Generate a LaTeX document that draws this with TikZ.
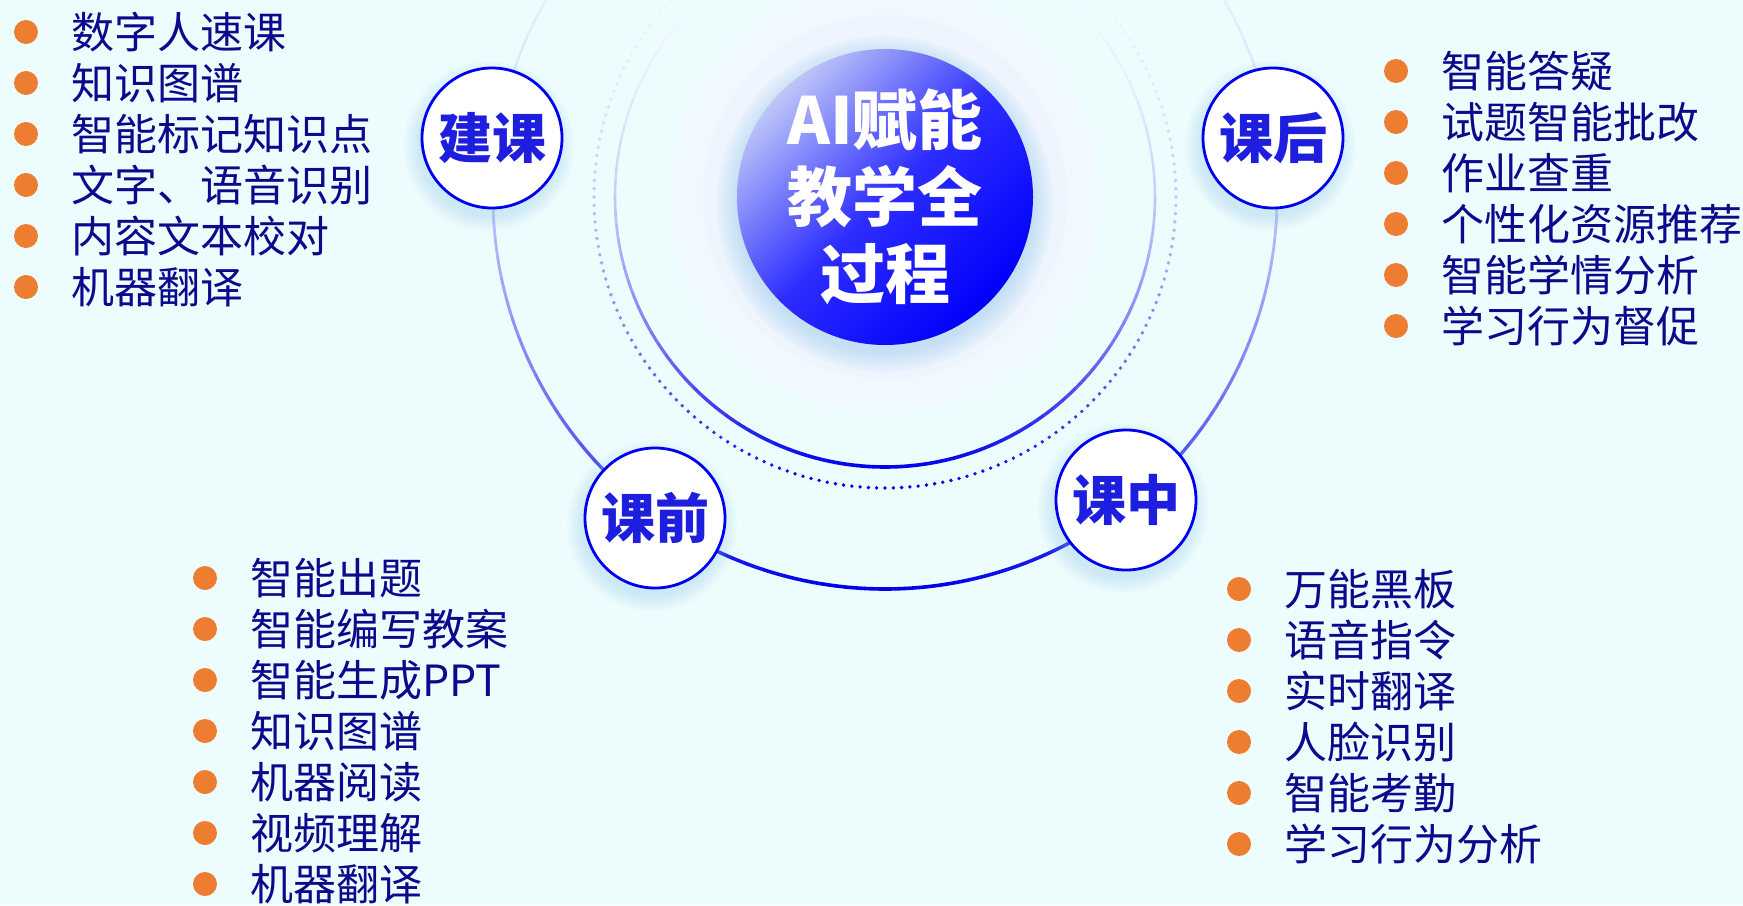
\documentclass[tikz,border=0pt]{standalone}
\usepackage{fontspec}
\newfontfamily\cjk{Noto Sans CJK SC}
\usetikzlibrary{calc}
\definecolor{bgc}{RGB}{237,253,253}
\definecolor{ringc}{RGB}{0,0,235}
\definecolor{navy}{RGB}{10,10,140}
\definecolor{bulc}{RGB}{237,125,49}
\definecolor{stagec}{RGB}{30,30,222}
\definecolor{cborder}{RGB}{0,0,240}
\definecolor{clight}{RGB}{190,198,248}
\definecolor{cmid}{RGB}{45,45,255}
\definecolor{cdeep}{RGB}{0,0,252}
\definecolor{shadowc}{RGB}{140,195,235}
\definecolor{haloA}{RGB}{240,249,254}
\definecolor{haloB}{RGB}{238,245,254}
\begin{document}
\begin{tikzpicture}[x=1pt,y=-1pt,
  item/.style={anchor=base west, inner sep=0pt, text=navy, font=\cjk\fontsize{43}{50}\selectfont},
  bul/.style={fill=bulc, draw=none},
  stage/.style={circle, minimum size=140pt, inner sep=0pt, fill=white, draw=cborder, line width=2.8pt, text=stagec, font=\cjk\bfseries\fontsize{54}{60}\selectfont},
  core/.style={circle, minimum size=296pt, inner sep=0pt, top color=clight, bottom color=cdeep, middle color=cmid, shading angle=45, text=white, align=center, font=\cjk\bfseries\fontsize{65}{77}\selectfont}
]
\fill[bgc] (0,0) rectangle (1743,905);
\useasboundingbox (0,0) rectangle (1743,905);
\coordinate (C) at (885,197);

% halos
\fill[haloA] (C) circle[radius=216pt];
\fill[haloB] (C) circle[radius=182pt];

% solid rings with vertical fading
\foreach \a in {0,3,...,357}{
  \pgfmathsetmacro\t{(1-sin(\a+1.5))/2}
  \pgfmathtruncatemacro\p{100*\t^2.2}
  \pgfmathsetmacro\w{1.8+1.8*\t}
  \draw[ringc!\p!bgc, line width=\w pt, line cap=round] ($(C)+(\a:392pt)$) arc[start angle=\a, delta angle=3, radius=392pt];
}
\foreach \a in {0,3,...,357}{
  \pgfmathsetmacro\t{(1-sin(\a+1.5))/2}
  \pgfmathtruncatemacro\p{100*\t^2.4}
  \pgfmathsetmacro\w{1.6+2.0*\t}
  \draw[ringc!\p!haloA, line width=\w pt, line cap=round] ($(C)+(\a:270pt)$) arc[start angle=\a, delta angle=3, radius=270pt];
}
% dotted ring
\foreach \i in {0,...,219}{
  \pgfmathsetmacro\a{1.636364*\i}
  \pgfmathsetmacro\t{(1-sin(\a))/2}
  \pgfmathtruncatemacro\p{100*\t^2.2}
  \fill[ringc!\p!bgc] ($(C)+(\a:291pt)$) circle[radius=1.9pt];
}

% soft shadows
\foreach \k in {0,...,9}{
  \pgfmathsetmacro\rr{149+2.2*\k}
  \fill[shadowc, opacity=0.045] (885,204) circle[radius=\rr pt];
}
\foreach \px/\py in {492/138,1273/138,655/518,1126/500}{
  \foreach \k in {0,...,7}{
    \pgfmathsetmacro\rr{70+2.2*\k}
    \fill[shadowc, opacity=0.045] (\px-3,\py+8) circle[radius=\rr pt];
  }
}

% central node
\node[core] (core) at (C) {AI赋能\\教学全\\过程};

% stage nodes
\node[stage] (jk) at (492,138) {建课};
\node[stage] (kh) at (1273,138) {课后};
\node[stage] (kq) at (655,518) {课前};
\node[stage] (kz) at (1126,500) {课中};

% lists
\foreach \txt [count=\i from 0] in {数字人速课,知识图谱,智能标记知识点,文字、语音识别,内容文本校对,机器翻译}{
  \fill[bul] (26,32+51*\i) circle[radius=12pt];
  \node[item] (tl\i) at (71,48+51*\i) {\txt};
}
\foreach \txt [count=\i from 0] in {智能答疑,试题智能批改,作业查重,个性化资源推荐,智能学情分析,学习行为督促}{
  \fill[bul] (1396,71+51*\i) circle[radius=12pt];
  \node[item] (tr\i) at (1441,87+51*\i) {\txt};
}
\foreach \txt [count=\i from 0] in {智能出题,智能编写教案,智能生成PPT,知识图谱,机器阅读,视频理解,机器翻译}{
  \fill[bul] (205,578+51*\i) circle[radius=12pt];
  \node[item] (bl\i) at (250,594+51*\i) {\txt};
}
\foreach \txt [count=\i from 0] in {万能黑板,语音指令,实时翻译,人脸识别,智能考勤,学习行为分析}{
  \fill[bul] (1239,589+51*\i) circle[radius=12pt];
  \node[item] (br\i) at (1284,605+51*\i) {\txt};
}
\end{tikzpicture}
\end{document}
